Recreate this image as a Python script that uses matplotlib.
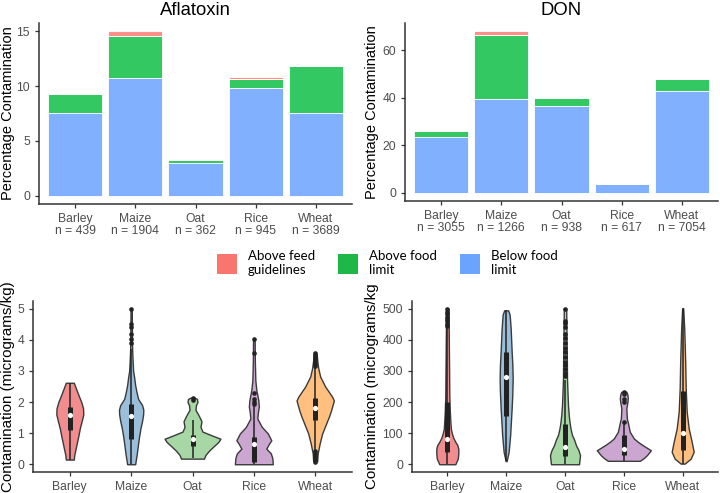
import numpy as np
import matplotlib
matplotlib.use("Agg")
import matplotlib.pyplot as plt
from matplotlib.patches import Patch

# ---------------- data ----------------
grains = ["Barley", "Maize", "Oat", "Rice", "Wheat"]

afl_n = [439, 1904, 362, 945, 3689]
afl_below = [7.53, 10.72, 3.0, 9.87, 7.56]
afl_food = [1.79, 3.8, 0.28, 0.82, 4.25]
afl_feed = [0.0, 0.51, 0.0, 0.12, 0.0]

don_n = [3055, 1266, 938, 617, 7054]
don_below = [23.6, 39.6, 36.4, 3.77, 43.0]
don_food = [2.35, 26.7, 3.5, 0.0, 5.0]
don_feed = [0.0, 1.65, 0.0, 0.0, 0.0]

legend_labels = ["Above feed\nguidelines", "Above food\nlimit", "Below food\nlimit"]

# violin density profiles (value, relative density)
afl_prof_y = [
    [0.15, 0.3, 0.6, 0.9, 1.15, 1.4, 1.6, 1.8, 2.0, 2.2, 2.45, 2.62],
    [0.0, 0.3, 0.6, 0.9, 1.15, 1.4, 1.6, 1.75, 1.9, 2.1, 2.3, 2.55, 2.8, 3.0, 3.3, 3.7, 4.2, 5.0],
    [0.18, 0.3, 0.45, 0.6, 0.72, 0.82, 0.92, 1.05, 1.2, 1.38, 1.55, 1.75, 1.9, 2.0, 2.1, 2.14],
    [0.0, 0.2, 0.35, 0.5, 0.65, 0.77, 0.99, 1.2, 1.47, 1.65, 1.85, 2.06, 2.39, 2.7, 3.3, 4.0],
    [0.1, 0.35, 0.67, 0.99, 1.31, 1.55, 1.74, 2.05, 2.17, 2.5, 2.82, 3.1, 3.35, 3.55],
]
afl_prof_d = [
    [4, 4.5, 6.5, 8.5, 10, 12, 13.5, 13.3, 11.5, 9, 6, 4],
    [4, 5.5, 6.7, 8, 9.3, 11, 12, 12.2, 11, 7, 5.5, 4, 3, 2, 1.5, 1, 0.8, 0.6],
    [11.5, 13, 17, 22, 26, 28, 20, 10, 8, 9, 6.5, 3, 3.5, 5, 4.5, 2],
    [19, 18.5, 17, 12.5, 15, 17.5, 14, 8, 3.5, 4, 5, 4.5, 2.5, 1.5, 1, 0.8],
    [2, 2.5, 4.5, 7, 11, 14, 16, 18.7, 17, 10, 5, 3, 2, 1.5],
]
afl_q1 = [1.1, 0.8, 0.6, 0.08, 1.42]
afl_med = [1.57, 1.55, 0.8, 0.65, 1.8]
afl_q3 = [1.85, 1.95, 0.95, 0.88, 2.12]
afl_lo = [0.15, 0.0, 0.2, 0.0, 0.45]
afl_hi = [2.62, 3.7, 1.42, 1.9, 3.1]
afl_out = [
    [],
    [3.89, 4.03, 4.18, 4.41, 4.5, 5.0],
    [2.05, 2.12],
    [1.95, 2.0, 2.1, 2.3, 3.57, 4.02],
    [0.08, 0.13, 0.18, 0.24, 0.3, 0.36, 0.42, 3.15, 3.22, 3.3, 3.38, 3.45, 3.52, 3.58],
]

don_prof_y = [
    [0, 18, 35, 50, 62, 72, 85, 100, 115, 140, 170, 220, 300, 400, 500],
    [10, 40, 94, 180, 230, 276, 320, 362, 400, 438, 481, 495],
    [0, 29, 45, 61, 80, 94, 115, 136, 160, 190, 230, 276, 350, 420, 500],
    [11, 20, 29, 45, 61, 72, 83, 104, 126, 137, 147, 165, 180, 198, 212, 225, 233],
    [2, 18, 40, 72, 115, 169, 244, 330, 438, 502],
]
don_prof_d = [
    [8, 10.5, 11, 11, 10, 8, 6, 4.5, 3.5, 3, 2.5, 2, 1.8, 1.5, 1.2],
    [0.5, 2.5, 4, 5.5, 6.2, 6.5, 6.2, 5.5, 5, 4.5, 3.5, 2],
    [14, 15, 13.5, 11, 9, 7, 5.5, 4.5, 3.7, 3, 2.5, 2, 1.8, 1.5, 1.2],
    [16, 20, 23, 27, 19, 14, 10, 6, 4.5, 3.8, 3, 2.7, 2.5, 3.5, 4, 3.5, 2.5],
    [2, 8, 11, 9, 6, 4, 3, 2.5, 1.5, 0.5],
]
don_q1 = [40, 155, 25, 29, 47]
don_med = [80, 279, 54, 48, 101]
don_q3 = [200, 360, 130, 94, 235]
don_lo = [0, 10, 0, 11, 0]
don_hi = [440, 495, 270, 130, 500]
don_out = [
    [445, 452, 460, 468, 475, 483, 490, 500],
    [],
    [285, 295, 305, 320, 330, 345, 360, 375, 390, 405, 420, 440, 455, 462, 500],
    [135, 200, 210, 225, 232],
    [],
]

# ---------------- style ----------------
FONT = "Liberation Sans"
plt.rcParams["font.family"] = [FONT, "DejaVu Sans"]
c_below = "#80B0FF"
c_food = "#33C862"
c_feed = "#F9918A"
leg_cols = ["#F8766D", "#1DB845", "#6BA4FF"]
vcols = ["#F18D8E", "#9BBEDB", "#A6D7A4", "#CBA6D1", "#FFBF7F"]
tick_col = "#4D4D4D"
spine_col = "#333333"

fig = plt.figure(figsize=(7.2, 4.93), dpi=100)
W, H = 720.0, 493.0


def add_ax(l, t, r, b):
    return fig.add_axes([l / W, 1 - b / H, (r - l) / W, (b - t) / H])


def style(ax):
    for s in ["top", "right"]:
        ax.spines[s].set_visible(False)
    for s in ["left", "bottom"]:
        ax.spines[s].set_color(spine_col)
        ax.spines[s].set_linewidth(1.1)
    ax.tick_params(axis="both", colors=spine_col, labelcolor=tick_col,
                   labelsize=8.7, length=3, width=0.9)
    ax.set_xlim(0.4, 5.6)


def bars(ax, below, food, feed, n, title, ymax, labx):
    x = np.arange(1, 6)
    below = np.array(below); food = np.array(food); feed = np.array(feed)
    kw = dict(width=0.9, edgecolor="white", linewidth=0.6)
    ax.bar(x, below, color=c_below, **kw)
    ax.bar(x, food, bottom=below, color=c_food, **kw)
    ax.bar(x, feed, bottom=below + food, color=c_feed, **kw)
    style(ax)
    ax.set_ylim(-0.05 * ymax, 1.05 * ymax)
    ax.set_xticks(x)
    ax.set_xticklabels([f"{g}\nn = {k}" for g, k in zip(grains, n)],
                       linespacing=1.0)
    ax.set_ylabel("Percentage Contamination", fontsize=10.5)
    ax.yaxis.set_label_coords(labx, 0.5)
    ax.set_title(title, fontsize=13.3, pad=5.5)


def violins(ax, py, pd_, q1, med, q3, lo, hi, out, ymax, pxu, ylabel, labx):
    x = np.arange(1, 6)
    stats = []
    widths = []
    for yy, dd in zip(py, pd_):
        yy = np.array(yy, float); dd = np.array(dd, float)
        stats.append(dict(coords=yy, vals=dd, mean=float(np.mean(yy)),
                          median=float(np.median(yy)), min=yy.min(), max=yy.max()))
        widths.append(2 * dd.max() / pxu)
    parts = ax.violin(stats, positions=x, widths=widths, showmeans=False,
                      showextrema=False, showmedians=False)
    for body, c in zip(parts["bodies"], vcols):
        body.set_facecolor(c)
        body.set_edgecolor("#3a3a3a")
        body.set_linewidth(1.0)
        body.set_alpha(1)
    ax.vlines(x, lo, hi, color="#222222", lw=1.1, zorder=3)
    ax.vlines(x, q1, q3, color="#222222", lw=3.6, zorder=3)
    for xi, o in zip(x, out):
        if o:
            ax.scatter([xi] * len(o), o, s=11, color="#222222", zorder=4, lw=0)
    ax.scatter(x, med, s=14, color="white", zorder=5, lw=0)
    style(ax)
    ax.set_ylim(-0.05 * ymax, 1.05 * ymax)
    ax.set_xticks(x)
    ax.set_xticklabels(grains)
    ax.set_ylabel(ylabel, fontsize=10.9)
    ax.yaxis.set_label_coords(labx, 0.5)


ax1 = add_ax(39, 23, 352, 204)
bars(ax1, afl_below, afl_food, afl_feed, afl_n, "Aflatoxin", 15.0, -0.078)
ax1.set_yticks([0, 5, 10, 15])

ax2 = add_ax(405, 23, 718, 201)
bars(ax2, don_below, don_food, don_feed, don_n, "DON", 68.0, -0.084)
ax2.set_yticks([0, 20, 40, 60])

ax3 = add_ax(33, 301, 352, 472)
violins(ax3, afl_prof_y, afl_prof_d, afl_q1, afl_med, afl_q3, afl_lo, afl_hi,
        afl_out, 5.0, 61.5, "Contamination (micrograms/kg)", -0.056)
ax3.set_yticks([0, 1, 2, 3, 4, 5])

ax4 = add_ax(412, 301, 718, 472)
violins(ax4, don_prof_y, don_prof_d, don_q1, don_med, don_q3, don_lo, don_hi,
        don_out, 500.0, 58.8, "Contamination (micrograms/kg", -0.108)
ax4.set_yticks([0, 100, 200, 300, 400, 500])

handles = [Patch(facecolor=c, edgecolor="none") for c in leg_cols]
fig.legend(handles, legend_labels, ncol=3, loc="center",
           bbox_to_anchor=(387 / W, 1 - 263 / H), frameon=False,
           prop={"family": "Lato", "size": 9.5}, handlelength=1.55,
           handleheight=2.0, handletextpad=0.8, columnspacing=1.75,
           labelspacing=0.2)

fig.savefig("out.png", dpi=100)
